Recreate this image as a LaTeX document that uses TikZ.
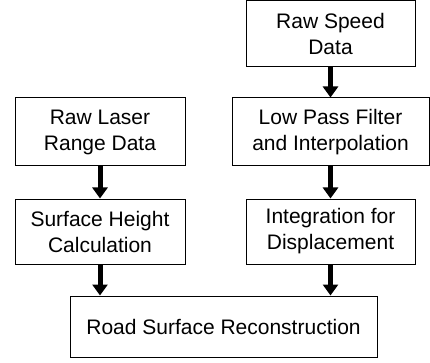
\documentclass[tikz,border=0pt]{standalone}
\usepackage{fontspec}
\setmainfont{Liberation Sans}
\usetikzlibrary{arrows.meta}
\begin{document}
\begin{tikzpicture}[x=1pt,y=-1pt,
  box/.style={draw=black,line width=1pt,fill=white,inner sep=0pt,align=center,
    font=\fontsize{21}{26}\selectfont},
  flow/.style={line width=5pt,-{Triangle[width=15pt,length=11pt]}}]
\useasboundingbox (0,0) rectangle (430,363);
\node[box,minimum width=169pt,minimum height=66pt] (speed) at (330.5,34) {Raw Speed\\Data};
\node[box,minimum width=197pt,minimum height=68pt] (lpf) at (330.5,132) {Low Pass Filter\\and Interpolation};
\node[box,minimum width=170pt,minimum height=68pt] (laser) at (100,132) {Raw Laser\\Range Data};
\node[box,minimum width=170pt,minimum height=65pt] (surf) at (100,231.5) {Surface Height\\Calculation};
\node[box,minimum width=169pt,minimum height=65pt] (integ) at (330.5,231.5) {Integration for\\Displacement};
\node[box,minimum width=307pt,minimum height=61pt] (road) at (223.5,326.5) {Road Surface Reconstruction};
\draw[flow] (speed.south) -- (speed.south |- lpf.north);
\draw[flow] (lpf.south) -- (lpf.south |- integ.north);
\draw[flow] (laser.south) -- (laser.south |- surf.north);
\draw[flow] (surf.south) -- (surf.south |- road.north);
\draw[flow] (integ.south) -- (integ.south |- road.north);
\end{tikzpicture}
\end{document}
